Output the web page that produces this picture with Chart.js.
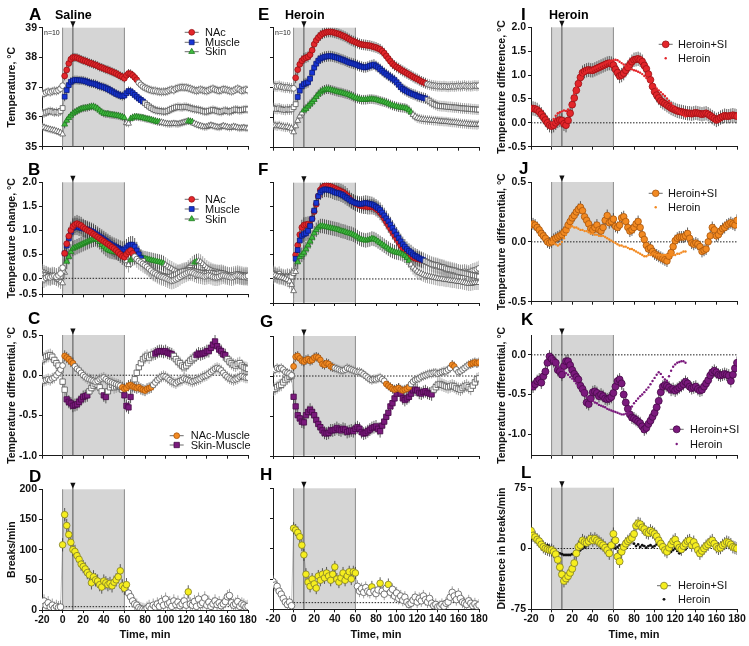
<!DOCTYPE html>
<html><head><meta charset="utf-8">
<script src="https://cdn.jsdelivr.net/npm/chart.js@4.4.1/dist/chart.umd.min.js"></script>
<style>
html,body{margin:0;padding:0;background:#fff;}
#wrap{position:relative;width:749px;height:646px;overflow:hidden;background:#fff;}
#wrap canvas{position:absolute;}
</style></head><body><div id="wrap"></div>
<script>
// ---------- time axis (min) ----------
const time = [-20,-18,-16,-14,-12,-10,-8,-6,-4,-2,0,2,4,6,8,10,12,14,16,18,20,22,24,26,28,30,32,34,36,38,40,42,44,46,48,50,52,54,56,58,60,62,64,66,68,70,72,74,76,78,80,82,84,86,88,90,92,94,96,98,100,102,104,106,108,110,112,114,116,118,120,122,124,126,128,130,132,134,136,138,140,142,144,146,148,150,152,154,156,158,160,162,164,166,168,170,172,174,176,178,180];
const xTicks = [-20,0,20,40,60,80,100,120,140,160,180];
const xTitle = 'Time, min';

// ---------- A: Saline, absolute temperature ----------
const aNAc = [36.8,36.78,36.82,36.85,36.83,36.86,36.88,36.87,36.9,36.95,
 37.05,37.38,37.58,37.8,37.94,38.0,38.0,37.99,37.96,37.93,
 37.9,37.88,37.85,37.82,37.8,37.77,37.75,37.72,37.68,37.66,
 37.63,37.6,37.58,37.55,37.52,37.49,37.46,37.42,37.38,37.35,
 37.3,37.4,37.46,37.45,37.4,37.33,37.25,37.15,37.08,37.02,
 36.98,36.95,36.92,36.9,36.88,36.88,36.86,36.85,36.84,36.85,
 36.85,36.87,36.9,36.92,36.9,36.95,36.97,36.99,37.0,36.99,
 36.99,36.97,36.95,36.92,36.9,36.88,36.9,36.92,36.9,36.88,
 36.87,36.9,36.93,36.95,36.92,36.9,36.88,36.9,36.93,36.92,
 36.9,36.88,36.86,36.88,36.92,36.95,36.92,36.88,36.9,36.92,
 36.9];
const aMus = [36.15,36.12,36.15,36.18,36.2,36.18,36.15,36.17,36.15,36.2,
 36.3,36.68,36.9,37.07,37.18,37.22,37.24,37.24,37.23,37.23,
 37.22,37.2,37.18,37.15,37.13,37.12,37.1,37.07,37.04,37.02,
 37.0,36.97,36.94,36.9,36.86,36.82,36.78,36.75,36.72,36.7,
 36.72,36.8,36.87,36.86,36.8,36.74,36.68,36.62,36.57,36.52,
 36.46,36.4,36.35,36.3,36.26,36.23,36.21,36.2,36.19,36.18,
 36.18,36.2,36.24,36.27,36.3,36.32,36.34,36.33,36.32,36.34,
 36.34,36.32,36.3,36.28,36.26,36.25,36.24,36.22,36.2,36.18,
 36.18,36.2,36.22,36.24,36.22,36.2,36.18,36.17,36.2,36.22,
 36.2,36.18,36.2,36.23,36.25,36.24,36.22,36.23,36.25,36.26,
 36.25];
const aSkin = [35.67,35.65,35.62,35.6,35.58,35.56,35.55,35.52,35.5,35.47,
 35.42,35.75,35.88,35.97,36.05,36.12,36.16,36.2,36.24,36.27,
 36.29,36.3,36.31,36.33,36.35,36.35,36.32,36.28,36.22,36.16,
 36.12,36.1,36.1,36.08,36.07,36.06,36.05,36.04,36.02,36.0,
 35.97,35.8,35.78,35.94,35.98,36.0,36.0,35.99,35.98,35.97,
 35.95,35.93,35.92,35.9,35.88,35.86,35.84,35.83,35.82,35.8,
 35.78,35.77,35.76,35.77,35.78,35.77,35.76,35.78,35.8,35.82,
 35.84,35.86,35.85,35.83,35.78,35.75,35.72,35.7,35.68,35.66,
 35.67,35.7,35.72,35.7,35.68,35.66,35.65,35.67,35.7,35.68,
 35.66,35.64,35.65,35.68,35.66,35.64,35.62,35.63,35.64,35.62,
 35.62];
const aNAcSig = [[2,72]], aMusSig = [[2,78]], aSkinSig = [[2,60],[66,94],[122,126]];

// ---------- E: Heroin, absolute temperature ----------
const eNAc = [37.07,37.05,37.04,37.06,37.03,37.02,37.0,37.01,36.99,36.98,
 36.98,37.33,37.6,37.78,37.9,37.97,38.0,38.03,38.1,38.25,
 38.45,38.58,38.67,38.74,38.8,38.83,38.85,38.86,38.86,38.85,
 38.83,38.81,38.79,38.76,38.73,38.7,38.66,38.62,38.58,38.55,
 38.52,38.49,38.46,38.44,38.43,38.42,38.41,38.4,38.38,38.36,
 38.34,38.31,38.28,38.22,38.15,38.06,37.97,37.88,37.8,37.74,
 37.69,37.65,37.6,37.56,37.52,37.48,37.44,37.4,37.36,37.32,
 37.29,37.25,37.21,37.18,37.15,37.12,37.1,37.08,37.07,37.06,
 37.05,37.05,37.04,37.05,37.04,37.03,37.04,37.05,37.04,37.05,
 37.06,37.05,37.06,37.07,37.05,37.06,37.05,37.06,37.07,37.06,
 37.07];
const eMus = [36.32,36.3,36.29,36.31,36.28,36.27,36.26,36.28,36.27,36.28,
 36.35,36.45,36.69,36.9,37.05,37.12,37.15,37.18,37.3,37.5,
 37.67,37.8,37.9,37.97,38.0,38.03,38.04,38.05,38.05,38.04,
 38.02,38.0,37.98,37.95,37.93,37.9,37.87,37.84,37.82,37.8,
 37.78,37.75,37.72,37.7,37.68,37.68,37.7,37.73,37.75,37.77,
 37.72,37.68,37.62,37.56,37.5,37.45,37.4,37.35,37.3,37.25,
 37.18,37.1,37.02,36.96,36.92,36.88,36.84,36.81,36.78,36.76,
 36.72,36.7,36.68,36.66,36.64,36.6,36.55,36.5,36.46,36.43,
 36.4,36.39,36.38,36.38,36.37,36.36,36.36,36.35,36.34,36.34,
 36.33,36.32,36.31,36.31,36.3,36.3,36.29,36.28,36.28,36.27,
 36.27];
const eSkin = [35.76,35.74,35.72,35.74,35.71,35.7,35.68,35.69,35.66,35.64,
 35.52,35.72,35.9,36.05,36.15,36.25,36.3,36.38,36.45,36.52,
 36.6,36.7,36.78,36.85,36.9,36.93,36.95,36.95,36.93,36.91,
 36.89,36.87,36.85,36.84,36.82,36.8,36.78,36.76,36.73,36.7,
 36.66,36.64,36.62,36.6,36.6,36.6,36.61,36.62,36.62,36.61,
 36.6,36.58,36.56,36.54,36.52,36.5,36.47,36.44,36.41,36.39,
 36.37,36.35,36.34,36.33,36.32,36.3,36.25,36.18,36.1,36.04,
 35.99,35.97,35.95,35.94,35.93,35.92,35.92,35.91,35.9,35.9,
 35.89,35.88,35.88,35.87,35.87,35.86,35.85,35.84,35.84,35.83,
 35.82,35.81,35.8,35.8,35.79,35.78,35.78,35.77,35.77,35.76,
 35.78];
const eNAcSig = [[2,128]], eMusSig = [[4,128]], eSkinSig = [[10,114]];

// ---------- B: Saline, temperature change ----------
const bNAc = [0.0,-0.02,0.01,0.03,0.02,0.04,0.05,0.03,0.06,0.1,
 0.22,0.52,0.72,0.88,1.0,1.08,1.12,1.14,1.12,1.1,
 1.06,1.03,1.0,0.98,0.95,0.92,0.89,0.86,0.83,0.8,
 0.77,0.74,0.71,0.68,0.65,0.62,0.58,0.54,0.5,0.46,
 0.44,0.5,0.55,0.58,0.52,0.45,0.4,0.36,0.33,0.3,
 0.27,0.24,0.2,0.16,0.12,0.1,0.07,0.05,0.03,0.02,
 0.0,-0.02,-0.04,-0.05,-0.04,-0.02,0.0,0.03,0.06,0.08,
 0.1,0.12,0.13,0.12,0.1,0.08,0.07,0.06,0.05,0.04,
 0.05,0.06,0.05,0.03,0.02,0.02,0.03,0.05,0.06,0.05,
 0.04,0.03,0.02,0.03,0.05,0.06,0.05,0.04,0.03,0.04,
 0.05];
const bMus = [0.08,0.06,0.07,0.05,0.04,0.06,0.05,0.03,0.02,0.04,
 0.15,0.52,0.68,0.83,0.97,1.05,1.08,1.08,1.06,1.05,
 1.04,1.03,1.02,1.0,0.98,0.96,0.93,0.9,0.87,0.84,
 0.81,0.78,0.75,0.72,0.69,0.67,0.65,0.63,0.61,0.59,
 0.6,0.64,0.68,0.7,0.7,0.66,0.58,0.5,0.42,0.36,
 0.3,0.26,0.22,0.18,0.15,0.12,0.1,0.08,0.06,0.05,
 0.04,0.03,0.03,0.04,0.06,0.08,0.1,0.12,0.14,0.15,
 0.15,0.16,0.17,0.16,0.15,0.14,0.13,0.12,0.11,0.1,
 0.1,0.11,0.12,0.11,0.1,0.09,0.1,0.11,0.1,0.08,
 0.06,0.05,0.06,0.07,0.08,0.09,0.08,0.07,0.06,0.06,
 0.05];
const bSkin = [0.14,0.12,0.1,0.08,0.06,0.04,0.02,0.0,-0.03,-0.06,
 -0.1,0.12,0.35,0.45,0.55,0.62,0.64,0.66,0.68,0.7,
 0.72,0.74,0.76,0.78,0.8,0.81,0.82,0.8,0.76,0.7,
 0.66,0.62,0.59,0.57,0.56,0.55,0.54,0.53,0.52,0.5,
 0.48,0.36,0.28,0.38,0.42,0.45,0.46,0.45,0.44,0.42,
 0.41,0.4,0.39,0.38,0.37,0.36,0.35,0.34,0.33,0.31,
 0.28,0.25,0.22,0.2,0.17,0.15,0.13,0.12,0.13,0.15,
 0.18,0.22,0.26,0.3,0.33,0.35,0.36,0.34,0.3,0.26,
 0.22,0.19,0.17,0.15,0.14,0.13,0.12,0.11,0.1,0.09,
 0.08,0.07,0.06,0.05,0.05,0.04,0.03,0.02,0.02,0.01,
 0.0];
const bNAcSig = [[2,68]], bMusSig = [[2,76]], bSkinSig = [[4,60],[66,98],[128,130]];

// ---------- F: Heroin, temperature change ----------
const fNAc = [0.12,0.1,0.08,0.1,0.06,0.05,0.04,0.06,0.05,0.08,
 0.15,0.5,0.7,0.92,1.07,1.12,1.13,1.14,1.12,1.25,
 1.4,1.55,1.72,1.85,1.9,1.93,1.94,1.93,1.92,1.9,
 1.88,1.86,1.84,1.82,1.8,1.77,1.73,1.68,1.63,1.6,
 1.57,1.55,1.53,1.52,1.51,1.51,1.5,1.5,1.5,1.49,
 1.46,1.43,1.38,1.33,1.26,1.19,1.12,1.05,0.98,0.91,
 0.84,0.77,0.7,0.63,0.57,0.53,0.5,0.47,0.45,0.43,
 0.42,0.41,0.39,0.38,0.36,0.34,0.32,0.3,0.28,0.27,
 0.26,0.25,0.24,0.22,0.2,0.19,0.18,0.17,0.16,0.15,
 0.14,0.13,0.14,0.15,0.14,0.13,0.15,0.17,0.18,0.2,
 0.22];
const fMus = [0.05,0.08,0.06,0.04,0.05,0.03,0.02,0.04,0.03,0.05,
 0.12,0.42,0.6,0.8,0.9,0.93,0.95,1.0,1.1,1.25,
 1.42,1.58,1.72,1.8,1.84,1.86,1.86,1.85,1.84,1.82,
 1.8,1.79,1.78,1.76,1.74,1.71,1.68,1.65,1.62,1.6,
 1.58,1.57,1.56,1.56,1.57,1.58,1.57,1.56,1.55,1.53,
 1.5,1.47,1.43,1.38,1.32,1.26,1.2,1.13,1.06,0.99,
 0.92,0.85,0.78,0.72,0.67,0.62,0.58,0.55,0.51,0.48,
 0.46,0.43,0.41,0.39,0.37,0.35,0.33,0.31,0.3,0.29,
 0.28,0.26,0.25,0.24,0.22,0.21,0.2,0.19,0.18,0.17,
 0.15,0.14,0.13,0.12,0.11,0.1,0.09,0.08,0.07,0.06,
 0.05];
const fSkin = [0.1,0.08,0.06,0.05,0.03,0.02,0.0,-0.02,-0.05,-0.12,
 -0.25,0.15,0.35,0.46,0.5,0.55,0.62,0.7,0.78,0.86,
 0.95,1.02,1.07,1.1,1.1,1.09,1.08,1.07,1.06,1.05,
 1.04,1.03,1.02,1.0,0.99,0.98,0.96,0.95,0.94,0.92,
 0.9,0.87,0.84,0.82,0.81,0.8,0.81,0.82,0.84,0.83,
 0.81,0.78,0.75,0.72,0.69,0.66,0.63,0.6,0.58,0.56,
 0.55,0.54,0.53,0.51,0.48,0.44,0.38,0.3,0.24,0.2,
 0.16,0.13,0.11,0.09,0.07,0.06,0.05,0.04,0.03,0.02,
 0.01,0.0,0.0,-0.01,-0.02,-0.02,-0.03,-0.04,-0.04,-0.05,
 -0.06,-0.06,-0.07,-0.08,-0.09,-0.1,-0.1,-0.09,-0.08,-0.08,
 -0.08];
const fNAcSig = [[2,124]], fMusSig = [[2,126]], fSkinSig = [[4,112]];

// ---------- C: Saline, differentials ----------
const cNM = [-0.06,-0.07,-0.06,-0.05,-0.06,-0.04,-0.03,0.0,0.03,0.07,
 0.12,0.24,0.22,0.2,0.17,0.15,0.11,0.08,0.06,0.03,
 0.0,-0.02,-0.04,-0.05,-0.06,-0.07,-0.08,-0.07,-0.05,-0.04,
 -0.03,-0.05,-0.07,-0.08,-0.09,-0.1,-0.11,-0.12,-0.13,-0.15,
 -0.17,-0.16,-0.13,-0.12,-0.14,-0.15,-0.16,-0.15,-0.17,-0.18,
 -0.19,-0.17,-0.16,-0.15,-0.12,-0.09,-0.06,-0.04,-0.02,-0.01,
 -0.02,-0.04,-0.06,-0.08,-0.09,-0.1,-0.08,-0.07,-0.06,-0.04,
 -0.05,-0.06,-0.07,-0.08,-0.07,-0.06,-0.05,-0.04,-0.02,-0.01,
 0.0,0.02,0.04,0.06,0.08,0.09,0.08,0.06,0.03,0.0,
 -0.02,-0.04,-0.05,-0.06,-0.05,-0.04,-0.02,-0.01,-0.02,-0.03,
 -0.03];
const cSM = [0.19,0.21,0.23,0.24,0.25,0.23,0.19,0.15,0.12,0.06,
 -0.08,-0.18,-0.3,-0.33,-0.35,-0.38,-0.37,-0.36,-0.33,-0.3,
 -0.27,-0.26,-0.25,-0.2,-0.16,-0.13,-0.11,-0.12,-0.15,-0.2,
 -0.25,-0.27,-0.2,-0.15,-0.12,-0.15,-0.14,-0.13,-0.14,-0.18,
 -0.25,-0.38,-0.4,-0.27,-0.15,-0.05,0.03,0.1,0.15,0.2,
 0.22,0.24,0.22,0.25,0.26,0.27,0.29,0.3,0.3,0.29,
 0.3,0.28,0.27,0.26,0.24,0.2,0.17,0.15,0.12,0.1,
 0.12,0.15,0.18,0.2,0.22,0.25,0.27,0.26,0.27,0.28,
 0.3,0.3,0.34,0.38,0.42,0.36,0.32,0.3,0.26,0.25,
 0.2,0.17,0.15,0.13,0.12,0.14,0.15,0.12,0.1,0.09,
 0.08];
const cNMSig = [[2,10],[58,86]], cSMSig = [[4,24],[40,42],[60,66],[90,106],[130,158]];

// ---------- G: Heroin, differentials ----------
const gNM = [0.07,0.08,0.1,0.09,0.1,0.08,0.05,0.04,0.03,0.01,
 0.12,0.24,0.25,0.22,0.19,0.18,0.2,0.21,0.19,0.2,
 0.23,0.24,0.23,0.2,0.15,0.14,0.16,0.15,0.12,0.11,
 0.1,0.09,0.08,0.07,0.07,0.08,0.1,0.09,0.08,0.07,
 0.06,0.05,0.05,0.04,0.02,0.0,-0.02,-0.04,-0.05,-0.04,
 -0.04,-0.03,-0.02,-0.04,-0.06,-0.1,-0.12,-0.14,-0.16,-0.17,
 -0.16,-0.15,-0.17,-0.18,-0.17,-0.16,-0.14,-0.1,-0.07,-0.05,
 -0.04,-0.03,-0.01,0.0,0.01,0.02,0.03,0.03,0.04,0.04,
 0.03,0.04,0.05,0.06,0.06,0.08,0.1,0.14,0.12,0.08,
 0.05,0.06,0.08,0.1,0.12,0.14,0.15,0.16,0.17,0.16,
 0.17];
const gSM = [-0.17,-0.16,-0.14,-0.12,-0.11,-0.08,-0.05,-0.03,-0.01,0.0,
 -0.26,-0.38,-0.49,-0.53,-0.57,-0.58,-0.49,-0.45,-0.42,-0.45,
 -0.49,-0.55,-0.6,-0.64,-0.68,-0.71,-0.72,-0.71,-0.68,-0.68,
 -0.67,-0.65,-0.67,-0.68,-0.66,-0.67,-0.7,-0.69,-0.68,-0.69,
 -0.66,-0.64,-0.66,-0.7,-0.72,-0.71,-0.69,-0.67,-0.65,-0.64,
 -0.63,-0.66,-0.69,-0.62,-0.57,-0.51,-0.46,-0.38,-0.34,-0.28,
 -0.22,-0.17,-0.22,-0.28,-0.3,-0.28,-0.26,-0.22,-0.18,-0.17,
 -0.18,-0.21,-0.22,-0.2,-0.19,-0.21,-0.22,-0.23,-0.17,-0.14,
 -0.11,-0.1,-0.11,-0.12,-0.13,-0.14,-0.13,-0.12,-0.13,-0.15,
 -0.16,-0.17,-0.15,-0.13,-0.12,-0.14,-0.16,-0.12,-0.08,-0.04,
 -0.03];
const gNMSig = [[0,38],[90,112],[154,156],[172,180]], gSMSig = [[0,134]];

// ---------- D / H: locomotion, breaks/min ----------
const dSal = [10,15,8,12,5,8,3,6,4,5,
 108,158,140,125,112,100,97,90,84,76,
 72,68,62,58,45,55,50,48,42,38,
 48,45,42,44,40,46,50,55,65,40,
 36,42,28,22,15,10,8,4,2,1,
 0,3,6,2,8,5,10,6,14,8,
 18,10,12,6,15,9,13,7,10,15,
 8,30,10,8,14,6,18,9,12,20,
 8,13,6,10,15,9,12,7,10,14,
 22,24,12,8,10,14,6,10,8,5,
 6];
const hHer = [46,40,38,30,25,18,12,8,12,6,
 134,131,127,120,106,90,58,45,38,50,
 42,35,55,48,58,52,60,55,48,58,
 70,50,45,52,60,48,55,62,50,62,
 60,38,30,34,28,36,30,28,37,30,
 26,32,43,30,25,35,41,28,33,22,
 27,18,22,15,20,12,8,10,15,20,
 12,18,14,22,16,12,18,10,6,8,
 4,5,8,5,10,12,20,28,22,16,
 25,18,12,10,8,14,10,6,9,5,
 7];
const dSig = [[0,62],[122,122]], hSig = [[0,60],[76,76],[84,84],[92,92]];

// ---------- I: NAc temperature difference ----------
const iSI = [0.3,0.3,0.29,0.27,0.23,0.18,0.12,0.06,0.0,-0.05,
 -0.07,-0.05,0.0,0.04,0.06,0.05,-0.02,-0.05,0.05,0.2,
 0.38,0.52,0.68,0.82,0.95,1.05,1.08,1.1,1.11,1.1,
 1.1,1.12,1.14,1.16,1.18,1.2,1.22,1.24,1.25,1.24,
 1.21,1.12,1.05,0.98,1.0,1.04,1.1,1.16,1.22,1.28,
 1.32,1.33,1.34,1.32,1.28,1.2,1.13,1.02,0.9,0.76,
 0.65,0.58,0.52,0.46,0.43,0.4,0.37,0.34,0.31,0.29,
 0.27,0.25,0.24,0.23,0.22,0.21,0.2,0.2,0.19,0.2,
 0.21,0.2,0.19,0.18,0.19,0.2,0.18,0.15,0.12,0.09,
 0.06,0.08,0.11,0.13,0.15,0.14,0.14,0.15,0.16,0.15,
 0.14];
const iHer = [null,null,null,null,null,null,null,null,null,null,
 0.0,0.08,0.15,0.2,0.22,0.24,0.26,0.25,0.28,0.35,
 0.48,0.62,0.75,0.86,0.95,1.0,1.04,1.07,1.09,1.1,
 1.13,1.15,1.17,1.19,1.21,1.23,1.25,1.27,1.29,1.3,
 1.31,1.32,1.31,1.28,1.25,1.22,1.19,1.16,1.14,1.12,
 1.1,1.09,1.07,1.05,1.02,0.98,0.94,0.9,0.85,0.8,
 0.76,0.72,0.68,0.64,0.6,0.56,0.51,0.46,0.41,0.35,
 0.3,0.26,0.22,0.19,0.16,0.13,null,null,null,null,
 null,null,null,null,null,null,null,null,null,null,
 null,null,null,null,null,null,null,null,null,null,
 null];

// ---------- J: NAc-Muscle differential ----------
const jSI = [0.14,0.15,0.14,0.12,0.1,0.07,0.05,0.03,0.0,-0.01,
 0.0,0.02,0.03,0.04,0.05,0.06,0.08,0.1,0.14,0.17,
 0.2,0.22,0.25,0.27,0.29,0.26,0.21,0.18,0.15,0.11,
 0.1,0.12,0.14,0.1,0.09,0.12,0.18,0.22,0.16,0.17,
 0.19,0.13,0.12,0.14,0.2,0.21,0.17,0.12,0.09,0.1,
 0.12,0.15,0.17,0.12,0.06,0.02,-0.03,-0.06,-0.05,-0.08,
 -0.1,-0.11,-0.12,-0.13,-0.14,-0.15,-0.16,-0.12,-0.09,-0.04,
 0.01,0.03,0.04,0.04,0.04,0.05,0.07,0.03,-0.01,-0.02,
 -0.01,-0.02,-0.04,-0.08,-0.07,-0.06,0.0,0.05,0.12,0.1,
 0.05,0.06,0.09,0.11,0.12,0.14,0.15,0.16,0.15,0.14,
 0.18];
const jHer = [null,null,null,null,null,null,null,null,null,null,
 0.0,-0.01,-0.02,-0.03,-0.02,0.0,0.03,0.06,0.09,0.12,
 0.13,0.12,0.12,0.11,0.1,0.1,0.09,0.09,0.08,0.07,
 0.07,0.06,0.06,0.05,0.05,0.05,0.04,0.03,0.02,0.01,
 0.0,-0.01,-0.02,-0.03,-0.03,-0.04,-0.04,-0.05,-0.06,-0.06,
 -0.07,-0.08,-0.09,-0.1,-0.11,-0.12,-0.12,-0.11,-0.11,-0.1,
 -0.1,-0.11,-0.11,-0.11,-0.11,-0.11,-0.11,-0.11,-0.11,-0.11,
 -0.11,-0.1,-0.1,-0.09,-0.08,-0.08,null,null,null,null,
 null,null,null,null,null,null,null,null,null,null,
 null,null,null,null,null,null,null,null,null,null,
 null];

// ---------- K: Skin-Muscle differential ----------
const kSI = [-0.39,-0.4,-0.37,-0.33,-0.31,-0.35,-0.27,-0.21,-0.1,-0.02,
 -0.05,-0.08,-0.1,-0.19,-0.21,-0.25,-0.14,-0.08,-0.08,-0.13,
 -0.19,-0.24,-0.28,-0.31,-0.39,-0.43,-0.48,-0.6,-0.62,-0.55,
 -0.47,-0.46,-0.48,-0.52,-0.5,-0.52,-0.55,-0.56,-0.55,-0.53,
 -0.48,-0.4,-0.33,-0.31,-0.36,-0.5,-0.6,-0.68,-0.75,-0.79,
 -0.8,-0.82,-0.84,-0.86,-0.9,-0.94,-0.92,-0.87,-0.83,-0.78,
 -0.73,-0.66,-0.58,-0.47,-0.4,-0.38,-0.39,-0.41,-0.44,-0.43,
 -0.45,-0.43,-0.41,-0.39,-0.37,-0.34,-0.36,-0.4,-0.42,-0.41,
 -0.4,-0.43,-0.45,-0.44,-0.4,-0.36,-0.32,-0.26,-0.22,-0.2,
 -0.22,-0.25,-0.26,-0.25,-0.24,-0.25,-0.26,-0.33,-0.25,-0.17,
 -0.1];
const kHer = [null,null,null,null,null,null,null,null,null,null,
 -0.05,-0.08,-0.11,-0.14,-0.17,-0.19,-0.21,-0.23,-0.25,-0.28,
 -0.3,-0.33,-0.36,-0.4,-0.43,-0.46,-0.5,-0.53,-0.55,-0.57,
 -0.58,-0.6,-0.61,-0.63,-0.64,-0.65,-0.66,-0.68,-0.69,-0.7,
 -0.71,-0.72,-0.73,-0.74,-0.75,-0.75,-0.74,-0.72,-0.69,-0.65,
 -0.61,-0.58,-0.55,-0.52,-0.5,-0.47,-0.44,-0.41,-0.37,-0.33,
 -0.29,-0.25,-0.22,-0.24,-0.28,-0.31,-0.33,-0.27,-0.2,-0.15,
 -0.12,-0.1,-0.09,-0.08,-0.08,-0.1,null,null,null,null,
 null,null,null,null,null,null,null,null,null,null,
 null,null,null,null,null,null,null,null,null,null,
 null];

// ---------- L: difference in breaks/min ----------
const lSI = [22,16,14,11,9,5,2,0,-1,-2,
 -2,-4,-7,-14,-23,-32,-40,-37,-34,-30,
 -25,-18,-6,2,4,10,8,7,9,12,
 10,12,10,8,6,4,1,-2,-6,4,
 18,10,-10,-16,-4,2,6,9,11,13,
 18,28,31,30,26,24,20,19,22,20,
 18,15,10,6,2,-2,-4,1,5,9,
 11,5,1,-1,3,6,9,10,4,8,
 3,-2,-6,-3,0,3,5,8,10,6,
 2,0,1,4,6,8,7,5,2,1,
 0];
const lHer = [null,null,null,null,null,null,null,3,4,2,
 0,-2,-3,-5,-6,-7,-8,-8,-8,-8,
 -7,-6,-5,-3,-2,0,2,4,6,8,
 8,8,7,6,5,4,3,4,3,2,
 1,0,2,4,3,2,4,6,8,10,
 6,3,5,2,4,3,1,3,4,2,
 3,5,8,10,7,2,-2,-6,-4,-2,
 0,-3,-6,-2,1,-1,null,null,null,null,
 null,null,null,null,null,null,null,null,null,null,
 null,null,null,null,null,null,null,null,null,null,
 null];
const allSig = [[-20,180]];

// ---------- axis ticks ----------
const tempTicks = [35,36,37,38,39], tempTickLabels = ['35','36','37','38','39'];
const chgTicksB = [-0.333,0,0.5,1,1.5,2], chgTickLabelsB = ['-0.5','0.0','0.5','1.0','1.5','2.0'];
const chgTicks = [-0.5,0,0.5,1,1.5,2], chgTickLabels = ['-0.5','0.0','0.5','1.0','1.5','2.0'];
const difTicks = [-1,-0.5,0,0.5], difTickLabels = ['-1.0','-0.5','0.0','0.5'];
const brkTicks = [0,50,100,150,200], brkTickLabels = ['0','50','100','150','200'];
const jTicks = [-0.5,0,0.5], jTickLabels = ['-0.5','0.0','0.5'];
const kTicks = [-1,-0.5,0], kTickLabels = ['-1.0','-0.5','0.0'];
const lTicks = [-75,0,75], lTickLabels = ['-75','0','75'];

// ---------- styles ----------
const FONT = "'Liberation Sans', Arial, Helvetica, sans-serif";
const AX = '#1a1a1a';
const RED = {fill:'#e3262b', stroke:'#9a1014'};
const BLUE = {fill:'#1836d6', stroke:'#0b1a7a'};
const GREEN = {fill:'#3fbb3f', stroke:'#1f7a1f'};
const ORANGE = {fill:'#f28a22', stroke:'#a8560c'};
const PURPLE = {fill:'#7b1a7d', stroke:'#460a47'};
const YELLOW = {fill:'#f6ee1e', stroke:'#7f7c2a'};
const BLACK = {fill:'#111111', stroke:'#111111'};
const WHITE = {fill:'#ffffff', stroke:'#555555'};

function sigMask(ranges){
  return time.map(t => ranges.some(r => t >= r[0] && t <= r[1]));
}

const C1 = {x:0, w:265, l:42, r:248};
const C2 = {x:256, w:234, l:273, r:479};
const C3 = {x:490, w:259, l:531, r:737};

function S(v, sig, shape, r, c, sem, label, extra){
  return Object.assign({v, sig, shape, r, c, sem, label, line:true, dot:false}, extra||{});
}

const panels = [
 {id:'A', col:C1, cy:0, ch:155, t:27.7, b:146.7, ymin:35, ymax:39, ticks:tempTicks, labels:tempTickLabels, ytitle:'Temperature, °C',
  letter:['A',29,20], title:['Saline',55,19], n10:true, dotted:null,
  series:[S(aSkin,aSkinSig,'triangle',3.4,GREEN,0.13,'Skin'), S(aMus,aMusSig,'rect',3.4,BLUE,0.15,'Muscle'), S(aNAc,aNAcSig,'circle',2.9,RED,0.15,'NAc')],
  legend:{mx:191.7, tx:205, rows:[[2,32.3],[1,42.3],[0,51.7]]}},
 {id:'E', col:C2, cy:0, ch:155, t:27.7, b:147.7, ymin:35, ymax:39, ticks:tempTicks, labels:null, ytitle:null,
  letter:['E',258,20], title:['Heroin',285,19], n10:true, dotted:null,
  series:[S(eSkin,eSkinSig,'triangle',3.4,GREEN,0.16,'Skin'), S(eMus,eMusSig,'rect',3.4,BLUE,0.18,'Muscle'), S(eNAc,eNAcSig,'circle',2.9,RED,0.18,'NAc')]},
 {id:'I', col:C3, cy:0, ch:155, t:27.3, b:146.7, ymin:-0.5, ymax:2, ticks:chgTicks, labels:chgTickLabels, ytitle:'Temperature difference, °C',
  letter:['I',521,20], title:['Heroin',549,19], dotted:{v:0,from:-20},
  series:[S(iHer,allSig,'circle',1.2,RED,0,'Heroin',{line:false,dot:true}), S(iSI,allSig,'circle',3.4,RED,0.15,'Heroin+SI')],
  legend:{mx:665.7, tx:678, rows:[[1,44.3],[0,58.3]]}},

 {id:'B', col:C1, cy:155, ch:155, t:182.3, b:294.3, ymin:-0.333, ymax:2, ticks:chgTicksB, labels:chgTickLabelsB, ytitle:'Temperature change, °C',
  letter:['B',28,175], dotted:{v:0,from:0},
  series:[S(bNAc,bNAcSig,'circle',2.9,RED,0.18,'NAc'), S(bMus,bMusSig,'rect',3.4,BLUE,0.18,'Muscle'), S(bSkin,bSkinSig,'triangle',3.4,GREEN,0.16,'Skin')],
  legend:{mx:191.7, tx:205, rows:[[0,199.3],[1,209],[2,219]]}},
 {id:'F', col:C2, cy:155, ch:155, t:182.7, b:303, ymin:-0.5, ymax:2, ticks:chgTicks, labels:null, ytitle:null,
  letter:['F',258,175], dotted:{v:0,from:-20},
  series:[S(fSkin,fSkinSig,'triangle',3.4,GREEN,0.15,'Skin'), S(fMus,fMusSig,'rect',3.4,BLUE,0.16,'Muscle'), S(fNAc,fNAcSig,'circle',2.9,RED,0.16,'NAc')]},
 {id:'J', col:C3, cy:155, ch:155, t:182, b:303, ymin:-0.5, ymax:0.5, ticks:jTicks, labels:jTickLabels, ytitle:'Temperature differential, °C',
  letter:['J',519,174], dotted:{v:0,from:-20},
  series:[S(jHer,allSig,'circle',1.2,ORANGE,0,'Heroin',{line:false,dot:true}), S(jSI,allSig,'circle',3.3,ORANGE,0.05,'Heroin+SI')],
  legend:{mx:655.7, tx:668, rows:[[1,193.3],[0,207.3]]}},

 {id:'C', col:C1, cy:310, ch:155, t:335, b:455.7, ymin:-1, ymax:0.5, ticks:difTicks, labels:difTickLabels, ytitle:'Temperature differential, °C',
  letter:['C',28,324], dotted:{v:0,from:0},
  series:[S(cNM,cNMSig,'circle',2.9,ORANGE,0.07,'NAc-Muscle'), S(cSM,cSMSig,'rect',3.8,PURPLE,0.08,'Skin-Muscle')],
  legend:{mx:176.7, tx:190.7, rows:[[0,435.7],[1,445]]}},
 {id:'G', col:C2, cy:310, ch:155, t:336, b:456, ymin:-1, ymax:0.5, ticks:difTicks, labels:null, ytitle:null,
  letter:['G',260,327], dotted:{v:0,from:-20},
  series:[S(gNM,gNMSig,'circle',2.9,ORANGE,0.06,'NAc-Muscle'), S(gSM,gSMSig,'rect',3.8,PURPLE,0.08,'Skin-Muscle')]},
 {id:'K', col:C3, cy:310, ch:155, t:335, b:455.7, ymin:-1.27, ymax:0.25, ticks:kTicks, labels:kTickLabels, ytitle:'Temperature differential, °C',
  letter:['K',521,325], dotted:{v:0,from:-20},
  series:[S(kHer,allSig,'circle',1.2,PURPLE,0,'Heroin',{line:false,dot:true}), S(kSI,allSig,'circle',3.5,PURPLE,0.08,'Heroin+SI')],
  legend:{mx:676.7, tx:690, rows:[[1,429.3],[0,444]]}},

 {id:'D', col:C1, cy:465, ch:181, t:489.3, b:610, ymin:0, ymax:200, ticks:brkTicks, labels:brkTickLabels, ytitle:'Breaks/min', xlab:true,
  letter:['D',29,482], dotted:{v:5.5,from:0},
  series:[S(dSal,dSig,'circle',3.3,YELLOW,11,'Saline')]},
 {id:'H', col:C2, cy:465, ch:181, t:488.3, b:609.3, ymin:0, ymax:200, ticks:brkTicks, labels:null, ytitle:null, xlab:true,
  letter:['H',260,480], dotted:{v:11,from:0},
  series:[S(hHer,hSig,'circle',3.3,YELLOW,10,'Heroin')]},
 {id:'L', col:C3, cy:465, ch:181, t:487.7, b:609.3, ymin:-75, ymax:75, ticks:lTicks, labels:lTickLabels, ytitle:'Difference in breaks/min', xlab:true,
  letter:['L',521,478], dotted:{v:0,from:0},
  series:[S(lSI,allSig,'circle',3.5,YELLOW,8,'Heroin+SI'), S(lHer,allSig,'circle',1.4,BLACK,0,'Heroin',{line:false,dot:true})],
  legend:{mx:664, tx:678, rows:[[0,585.7],[1,599.3]]}}
];

function makeDataset(s){
  const m = sigMask(s.sig);
  return {
    label: s.label,
    data: time.map((t,i) => ({x:t, y:s.v[i]})),
    showLine: s.line,
    spanGaps: false,
    borderColor: 'rgba(60,60,60,0.5)',
    borderWidth: 0.6,
    pointStyle: s.shape,
    pointRadius: s.r,
    pointHoverRadius: s.r,
    pointBackgroundColor: m.map(k => k ? s.c.fill : WHITE.fill),
    pointBorderColor: m.map(k => s.dot ? s.c.fill : (k ? s.c.stroke : WHITE.stroke)),
    pointBorderWidth: s.dot ? 0 : 0.8
  };
}

function drawMarker(ctx, s, x, y){
  ctx.save();
  ctx.fillStyle = s.c.fill; ctx.strokeStyle = s.dot ? s.c.fill : s.c.stroke; ctx.lineWidth = s.dot ? 0 : 0.8;
  Chart.helpers.drawPoint(ctx, {pointStyle:s.shape, radius:s.r, rotation:0, borderWidth: s.dot ? 0 : 0.8}, x, y);
  ctx.restore();
}

function decoPlugin(p){
  const ox = p.col.x, oy = p.cy;
  return {
    id: 'deco' + p.id,
    beforeDatasetsDraw(chart){
      const ctx = chart.ctx, ca = chart.chartArea, xs = chart.scales.x, ys = chart.scales.y;
      ctx.save();
      const x0 = xs.getPixelForValue(0), x60 = xs.getPixelForValue(60), x10 = xs.getPixelForValue(10);
      ctx.fillStyle = '#d5d5d5';
      ctx.fillRect(x0, ca.top, x60 - x0, ca.bottom - ca.top - 0.5);
      ctx.strokeStyle = '#8c8c8c'; ctx.lineWidth = 1;
      ctx.beginPath(); ctx.moveTo(x0, ca.top); ctx.lineTo(x0, ca.bottom); ctx.moveTo(x60, ca.top); ctx.lineTo(x60, ca.bottom); ctx.stroke();
      ctx.strokeStyle = '#505050';
      ctx.beginPath(); ctx.moveTo(x10, ca.top - 2); ctx.lineTo(x10, ca.bottom); ctx.stroke();
      if (p.dotted){
        const yy = ys.getPixelForValue(p.dotted.v);
        ctx.setLineDash([1.5, 1.5]); ctx.strokeStyle = '#222';
        ctx.beginPath(); ctx.moveTo(xs.getPixelForValue(p.dotted.from), yy); ctx.lineTo(ca.right, yy); ctx.stroke();
        ctx.setLineDash([]);
      }
      ctx.beginPath(); ctx.rect(ca.left, ca.top, ca.right - ca.left, ca.bottom - ca.top); ctx.clip();
      ctx.lineWidth = 1;
      p.series.forEach(s => {
        if (!s.sem) return;
        const m = sigMask(s.sig);
        s.v.forEach((v, i) => {
          if (v === null) return;
          const px = xs.getPixelForValue(time[i]);
          ctx.strokeStyle = m[i] ? 'rgba(55,55,55,0.8)' : 'rgba(140,140,140,0.8)';
          ctx.beginPath(); ctx.moveTo(px, ys.getPixelForValue(v - s.sem)); ctx.lineTo(px, ys.getPixelForValue(v + s.sem)); ctx.stroke();
        });
      });
      ctx.restore();
    },
    afterDraw(chart){
      const ctx = chart.ctx, ca = chart.chartArea, xs = chart.scales.x;
      ctx.save();
      const x10 = xs.getPixelForValue(10);
      ctx.fillStyle = '#111';
      ctx.beginPath(); ctx.moveTo(x10 - 2.6, ca.top - 6.5); ctx.lineTo(x10 + 2.6, ca.top - 6.5); ctx.lineTo(x10, ca.top - 0.5); ctx.closePath(); ctx.fill();
      ctx.fillStyle = '#000'; ctx.textBaseline = 'alphabetic'; ctx.textAlign = 'left';
      ctx.font = 'bold 17px ' + FONT;
      ctx.fillText(p.letter[0], p.letter[1] - ox, p.letter[2] - oy);
      if (p.title){
        ctx.font = 'bold 12.5px ' + FONT;
        ctx.fillText(p.title[0], p.title[1] - ox, p.title[2] - oy);
      }
      if (p.n10){
        ctx.font = '7px ' + FONT; ctx.fillStyle = '#222';
        ctx.fillText('n=10', ca.left + 2, ca.top + 7);
      }
      if (p.legend){
        ctx.font = '11px ' + FONT; ctx.textBaseline = 'middle';
        p.legend.rows.forEach(([si, yAbs]) => {
          const s = p.series[si];
          const mx = p.legend.mx - ox, my = yAbs - oy;
          if (s.line){
            ctx.strokeStyle = '#444'; ctx.lineWidth = 0.8;
            ctx.beginPath(); ctx.moveTo(mx - 7, my); ctx.lineTo(mx + 7, my); ctx.stroke();
          }
          drawMarker(ctx, s, mx, my);
          ctx.fillStyle = '#111';
          ctx.fillText(s.label, p.legend.tx - ox, my + 0.5);
        });
      }
      ctx.restore();
    }
  };
}

const wrap = document.getElementById('wrap');
panels.forEach(p => {
  const cv = document.createElement('canvas');
  cv.width = p.col.w; cv.height = p.ch;
  cv.style.left = p.col.x + 'px'; cv.style.top = p.cy + 'px';
  cv.style.width = p.col.w + 'px'; cv.style.height = p.ch + 'px';
  wrap.appendChild(cv);
  const yw = p.col.l - p.col.x;
  const xh = p.cy + p.ch - p.b;
  new Chart(cv.getContext('2d'), {
    type: 'scatter',
    data: {datasets: p.series.map(makeDataset)},
    options: {
      responsive: false, animation: false, devicePixelRatio: 1, events: [],
      layout: {padding: {left: 0, top: p.t - p.cy, right: p.col.x + p.col.w - p.col.r, bottom: 0}},
      plugins: {legend: {display: false}, tooltip: {enabled: false}},
      scales: {
        x: {
          type: 'linear', min: -20, max: 180,
          afterFit: s => { s.height = xh; },
          afterBuildTicks: s => { s.ticks = xTicks.map(v => ({value: v})); },
          grid: {display: true, drawOnChartArea: false, drawTicks: true, tickLength: 3, color: AX, lineWidth: 1},
          border: {display: true, color: AX, width: 1},
          ticks: {display: !!p.xlab, autoSkip: false, maxRotation: 0, minRotation: 0, padding: 1, color: '#111',
                  font: {family: FONT, size: 10.5, weight: 'bold'}},
          title: {display: !!p.xlab, text: xTitle, padding: {top: 0, bottom: 4}, color: '#111',
                  font: {family: FONT, size: 11, weight: 'bold'}}
        },
        y: {
          type: 'linear', min: p.ymin, max: p.ymax,
          afterFit: s => { s.width = yw; },
          afterBuildTicks: s => { s.ticks = p.ticks.map(v => ({value: v})); },
          grid: {display: true, drawOnChartArea: false, drawTicks: true, tickLength: 3, color: AX, lineWidth: 1},
          border: {display: true, color: AX, width: 1},
          ticks: {display: !!p.labels, autoSkip: false, padding: 2, color: '#111',
                  font: {family: FONT, size: 10.5, weight: 'bold'},
                  callback: v => { const i = p.ticks.indexOf(v); return (p.labels && i >= 0) ? p.labels[i] : ''; }},
          title: {display: !!p.ytitle, text: p.ytitle || '', padding: {top: 6, bottom: 0}, color: '#111',
                  font: {family: FONT, size: 10.5, weight: 'bold'}}
        }
      }
    },
    plugins: [decoPlugin(p)]
  });
});
</script></body></html>
